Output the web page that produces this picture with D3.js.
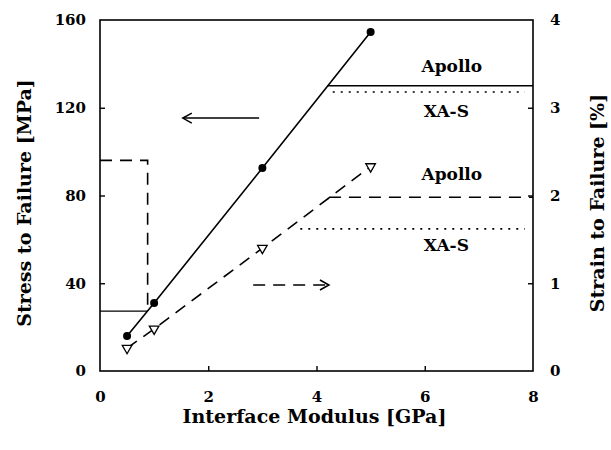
<!DOCTYPE html>
<html>
<head>
<meta charset="utf-8">
<script src="https://cdn.jsdelivr.net/npm/d3@7"></script>
<style>
  html, body { margin: 0; padding: 0; background: #fff; }
  svg text { font-family: "DejaVu Serif", serif; font-weight: bold; fill: #000; }
</style>
</head>
<body>
<svg id="chart" width="611" height="450"></svg>
<script>
// Interface modulus (GPa) and measured failure values
const modulus = [0.5, 1, 3, 5];
const stress = [16, 31, 92.5, 154.5];      // MPa, left axis
const strain = [0.26, 0.48, 1.4, 2.33];    // %, right axis

// Fibre reference levels
const stressRefs = [
  { name: "Apollo", value: 130, from: 4.2, to: 8, style: "solid" },
  { name: "XA-S", value: 127.2, from: 4.3, to: 7.85, style: "dotted" }
];
const strainRefs = [
  { name: "Apollo", value: 1.98, from: 4.23, to: 8, style: "dashed" },
  { name: "XA-S", value: 1.62, from: 3.7, to: 7.85, style: "dotted" }
];

// Low-modulus bracket lines
const stressLow = { value: 27.3, from: 0, to: 0.88 };
const strainLow = { value: 2.4, from: 0, to: 0.88, downTo: 0.68 };

// Axis ticks
const xTicks = [0, 2, 4, 6, 8];
const yLeftTicks = [0, 40, 80, 120, 160];
const yRightTicks = [0, 1, 2, 3, 4];

// Text labels
const labels = [
  { text: "Apollo", x: 6.5, y: 136.5, axis: "left" },
  { text: "XA-S", x: 6.4, y: 116, axis: "left" },
  { text: "Apollo", x: 6.5, y: 2.18, axis: "right" },
  { text: "XA-S", x: 6.4, y: 1.37, axis: "right" }
];

// Direction arrows: which axis each curve belongs to
const leftArrow = { y: 115.3, x1: 2.94, x2: 1.53 };
const rightArrow = { y: 0.98, x1: 2.83, x2: 4.23 };

const svg = d3.select("#chart");
const L = 100, R = 533, T = 20, B = 371;

const x = d3.scaleLinear().domain([0, 8]).range([L, R]);
const yL = d3.scaleLinear().domain([0, 160]).range([B, T]);
const yR = d3.scaleLinear().domain([0, 4]).range([B, T]);

const dashes = { solid: null, dashed: "12,8", dotted: "2,6" };

// Frame
svg.append("rect")
  .attr("x", L).attr("y", T).attr("width", R - L).attr("height", B - T)
  .attr("fill", "none").attr("stroke", "#000").attr("stroke-width", 1.6);

// Axes with inward ticks
const tickLen = 5;
const axB = svg.append("g").attr("transform", `translate(0,${B})`)
  .call(d3.axisBottom(x).tickValues(xTicks).tickSizeInner(-tickLen).tickSizeOuter(0).tickPadding(20).tickFormat(d3.format("d")));
const axL = svg.append("g").attr("transform", `translate(${L},0)`)
  .call(d3.axisLeft(yL).tickValues(yLeftTicks).tickSizeInner(-tickLen).tickSizeOuter(0).tickPadding(14).tickFormat(d3.format("d")));
const axR = svg.append("g").attr("transform", `translate(${R},0)`)
  .call(d3.axisRight(yR).tickValues(yRightTicks).tickSizeInner(-tickLen).tickSizeOuter(0).tickPadding(17).tickFormat(d3.format("d")));

[axB, axL, axR].forEach(ax => {
  ax.attr("font-family", null).attr("font-size", null);
  ax.select(".domain").remove();
  ax.selectAll("line").attr("stroke", "#000").attr("stroke-width", 1.4);
  ax.selectAll("text")
    .style("font-family", "'DejaVu Serif', serif")
    .style("font-weight", "bold")
    .style("font-size", "15px");
});
axB.selectAll(".tick").filter(d => d === 0 || d === 8).select("line").remove();
axL.selectAll(".tick").filter(d => d === 0 || d === 160).select("line").remove();
axR.selectAll(".tick").filter(d => d === 0 || d === 4).select("line").remove();

// Axis titles
svg.append("text").attr("x", (L + R) / 2 - 2).attr("y", 423)
  .attr("text-anchor", "middle").attr("font-size", 19).text("Interface Modulus [GPa]");
svg.append("text").attr("transform", `translate(31,203) rotate(-90)`)
  .attr("text-anchor", "middle").attr("font-size", 19).text("Stress to Failure [MPa]");
svg.append("text").attr("transform", `translate(604,203) rotate(-90)`)
  .attr("text-anchor", "middle").attr("font-size", 19).text("Strain to Failure [%]");

const plot = svg.append("g");

// Reference levels
stressRefs.forEach(r => {
  plot.append("line")
    .attr("x1", x(r.from)).attr("x2", x(r.to)).attr("y1", yL(r.value)).attr("y2", yL(r.value))
    .attr("stroke", "#000").attr("stroke-width", 1.6)
    .attr("stroke-dasharray", dashes[r.style]);
});
strainRefs.forEach(r => {
  plot.append("line")
    .attr("x1", x(r.from)).attr("x2", x(r.to)).attr("y1", yR(r.value)).attr("y2", yR(r.value))
    .attr("stroke", "#000").attr("stroke-width", 1.6)
    .attr("stroke-dasharray", dashes[r.style]);
});

// Low-modulus bracket
plot.append("line")
  .attr("x1", x(stressLow.from)).attr("x2", x(stressLow.to))
  .attr("y1", yL(stressLow.value)).attr("y2", yL(stressLow.value))
  .attr("stroke", "#000").attr("stroke-width", 1.4);
plot.append("path")
  .attr("d", d3.line()([
    [x(strainLow.from), yR(strainLow.value)],
    [x(strainLow.to), yR(strainLow.value)],
    [x(strainLow.to), yR(strainLow.downTo)]
  ]))
  .attr("fill", "none").attr("stroke", "#000").attr("stroke-width", 1.6)
  .attr("stroke-dasharray", "12,8");

// Stress curve (solid)
const stressPts = modulus.map((m, i) => [m, stress[i]]);
plot.append("path")
  .attr("d", d3.line().x(d => x(d[0])).y(d => yL(d[1]))(stressPts))
  .attr("fill", "none").attr("stroke", "#000").attr("stroke-width", 1.6);
plot.selectAll("circle.stress").data(stressPts).join("circle")
  .attr("class", "stress")
  .attr("cx", d => x(d[0])).attr("cy", d => yL(d[1])).attr("r", 4)
  .attr("fill", "#000");

// Strain curve (dashed)
const strainPts = modulus.map((m, i) => [m, strain[i]]);
plot.append("path")
  .attr("d", d3.line().x(d => x(d[0])).y(d => yR(d[1]))(strainPts))
  .attr("fill", "none").attr("stroke", "#000").attr("stroke-width", 1.6)
  .attr("stroke-dasharray", "12,8");
const tri = d3.symbol().type(d3.symbolTriangle).size(40);
plot.selectAll("path.strain").data(strainPts).join("path")
  .attr("class", "strain")
  .attr("d", tri)
  .attr("transform", d => `translate(${x(d[0])},${yR(d[1])}) rotate(180)`)
  .attr("fill", "#fff").attr("stroke", "#000").attr("stroke-width", 1.3);

// Labels
labels.forEach(l => {
  plot.append("text")
    .attr("x", x(l.x))
    .attr("y", l.axis === "left" ? yL(l.y) : yR(l.y))
    .attr("text-anchor", "middle").attr("font-size", 17).text(l.text);
});

// Arrows
function arrow(x1, x2, yPix, dash) {
  const dir = Math.sign(x2 - x1);
  plot.append("line")
    .attr("x1", x1).attr("x2", x2).attr("y1", yPix).attr("y2", yPix)
    .attr("stroke", "#000").attr("stroke-width", 1.5)
    .attr("stroke-dasharray", dash);
  plot.append("path")
    .attr("d", d3.line()([[x2 - dir * 9, yPix - 5], [x2, yPix], [x2 - dir * 9, yPix + 5]]))
    .attr("fill", "none").attr("stroke", "#000").attr("stroke-width", 1.5);
}
arrow(x(leftArrow.x1), x(leftArrow.x2), yL(leftArrow.y), null);
arrow(x(rightArrow.x1), x(rightArrow.x2), yR(rightArrow.y), "12,8");
</script>
</body>
</html>
